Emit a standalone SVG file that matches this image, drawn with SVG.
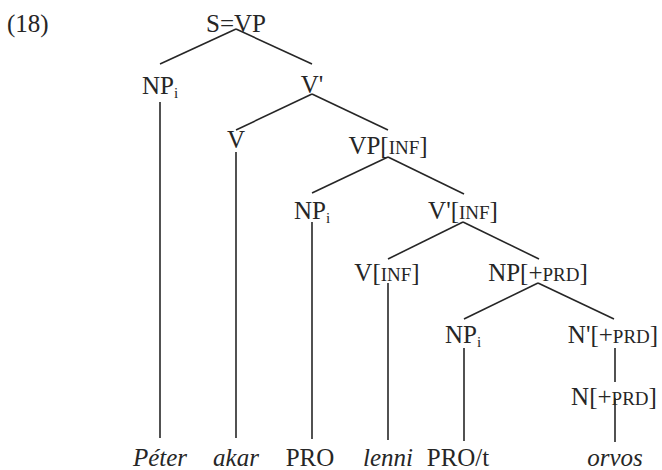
<svg xmlns="http://www.w3.org/2000/svg" width="662" height="470" viewBox="0 0 662 470">
<style>
text{font-family:"Liberation Serif","Times New Roman",serif;font-size:25px;fill:#262626;text-anchor:middle}
.sc{font-size:19px}
.sub{font-size:15px}
.it{font-style:italic}
.e line{stroke:#262626;stroke-width:1.6}
</style>
<rect width="662" height="470" fill="#fff"/>
<text x="7" y="32" style="text-anchor:start">(18)</text>
<g id="n-s"><text x="236" y="32">S=VP</text></g>
<g id="n-np1"><text x="160" y="94">NP<tspan class="sub" dy="4">i</tspan></text></g>
<g id="n-vbar"><text x="312" y="93">V'</text></g>
<g id="n-v"><text x="236" y="148">V</text></g>
<g id="n-vp-inf"><text x="388" y="154">VP[<tspan class="sc">INF</tspan>]</text></g>
<g id="n-np2"><text x="312" y="219">NP<tspan class="sub" dy="4">i</tspan></text></g>
<g id="n-vbar-inf"><text x="463" y="219">V'[<tspan class="sc">INF</tspan>]</text></g>
<g id="n-v-inf"><text x="387" y="281">V[<tspan class="sc">INF</tspan>]</text></g>
<g id="n-np-prd"><text x="538" y="281">NP[+<tspan class="sc">PRD</tspan>]</text></g>
<g id="n-np3"><text x="463" y="343">NP<tspan class="sub" dy="4">i</tspan></text></g>
<g id="n-nbar-prd"><text x="613" y="343">N'[+<tspan class="sc">PRD</tspan>]</text></g>
<g id="n-n-prd"><text x="614" y="405">N[+<tspan class="sc">PRD</tspan>]</text></g>
<g id="w-peter"><text class="it" x="160" y="466">Péter</text></g>
<g id="w-akar"><text class="it" x="236" y="466">akar</text></g>
<g id="w-pro"><text x="310" y="466">PRO</text></g>
<g id="w-lenni"><text class="it" x="388" y="466">lenni</text></g>
<g id="w-pro-t"><text x="458" y="466">PRO/t</text></g>
<g id="w-orvos"><text class="it" x="615" y="466">orvos</text></g>
<g id="edges" class="e">
<line x1="236" y1="29" x2="160" y2="64"/>
<line x1="236" y1="29" x2="312" y2="64"/>
<line x1="312" y1="94" x2="236" y2="130"/>
<line x1="312" y1="94" x2="388" y2="130"/>
<line x1="160" y1="102" x2="160" y2="438"/>
<line x1="236" y1="152" x2="236" y2="438"/>
<line x1="388" y1="157" x2="312" y2="193"/>
<line x1="388" y1="157" x2="464" y2="194"/>
<line x1="312" y1="222" x2="312" y2="439"/>
<line x1="463" y1="222" x2="388" y2="259"/>
<line x1="463" y1="222" x2="539" y2="259"/>
<line x1="388" y1="283" x2="388" y2="440"/>
<line x1="538" y1="283" x2="464" y2="319"/>
<line x1="538" y1="283" x2="614" y2="319"/>
<line x1="464" y1="348" x2="464" y2="441"/>
<line x1="615" y1="348" x2="615" y2="382"/>
<line x1="615" y1="398" x2="615" y2="442"/>
</g>
</svg>
